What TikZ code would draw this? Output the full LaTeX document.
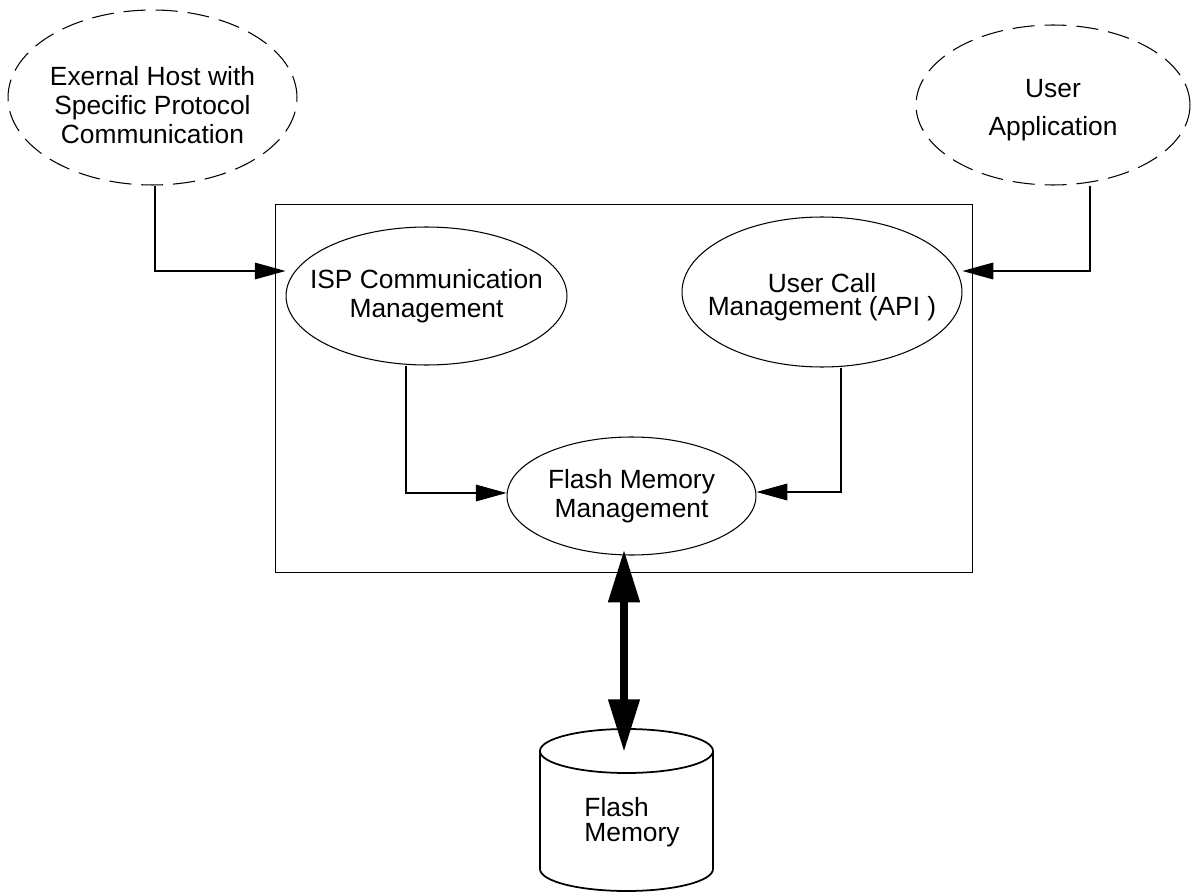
\documentclass[tikz,border=0pt]{standalone}
\usepackage{fontspec}
\setmainfont{Liberation Sans}
\usetikzlibrary{arrows.meta, shapes.geometric}

\tikzset{
  proc/.style={ellipse, draw, line width=0.6pt, inner sep=0pt},
  outside/.style={proc, dash pattern=on 12.5pt off 5.7pt},
  txt/.style={align=center},
  flow/.style={line width=0.6pt, -{Triangle[length=17.5pt,width=9.5pt]}},
  bus/.style={line width=4.5pt, {Triangle[length=30pt,width=17pt]}-{Triangle[length=30pt,width=17pt]}},
}

\begin{document}
\begin{tikzpicture}[x=0.02cm, y=-0.02cm, font=\fontsize{15}{16.5}\selectfont]
    \useasboundingbox (0,0) rectangle (1191,892);
    \node[draw, line width=0.6pt, inner sep=0pt, minimum width=13.96cm, minimum height=7.38cm] (sys) at (624,388.5) {};
    % outside parties
    \node[outside, minimum width=5.78cm, minimum height=3.5cm,
      label={[txt, yshift=-4.5pt]center:Exernal Host with\\Specific Protocol\\Communication}] (host) at (152.5,97.5) {};
    \node[outside, minimum width=5.48cm, minimum height=3.2cm,
      label={[txt, yshift=-3pt]center:User\\[5pt]Application}] (app) at (1053,105) {};
    % inside the box
    \node[proc, minimum width=5.62cm, minimum height=2.76cm,
      label={[txt]center:ISP Communication\\Management}] (isp) at (426.5,296) {};
    \node[proc, minimum width=5.6cm, minimum height=3cm,
      label={[txt, yshift=-3pt]center:User Call\\[-3pt]Management (API )}] (ucm) at (822,292) {};
    \node[proc, minimum width=4.98cm, minimum height=2.36cm,
      label={[txt]center:Flash Memory\\Management}] (fmm) at (631.5,496) {};
    % the memory itself
    \draw[line width=1pt] (626.5,751) ellipse[x radius=86.5, y radius=22];
    \draw[line width=1pt] (540,751) -- (540,869) .. controls (540,881.2) and (578.7,891) .. (626.5,891)
      .. controls (674.3,891) and (713,881.2) .. (713,869) -- (713,751);
    \node[align=left] (flash) at (632,822) {Flash\\[-2.5pt]Memory};
    % bends
    \coordinate (hostbend) at (155,271);
    \coordinate (appbend) at (1090,271);
    \coordinate (ispbend) at (406,493);
    \coordinate (ucmbend) at (841,492);
    \coordinate (cyltop) at (624,752);
    % calls into the box
    \draw[flow] (hostbend |- host.south) -- (hostbend) -- (hostbend -| isp.west);
    \draw[flow] (appbend |- app.south) -- (appbend) -- (appbend -| ucm.east);
    % calls down to flash management
    \draw[flow] (ispbend |- isp.south) -- (ispbend) -- (ispbend -| fmm.west);
    \draw[flow] (ucmbend |- ucm.south) -- (ucmbend) -- (ucmbend -| fmm.east);
    % data path
    \draw[bus, shorten <=-3.4pt] (cyltop |- fmm.south) -- (cyltop);
  \end{tikzpicture}
\end{document}
